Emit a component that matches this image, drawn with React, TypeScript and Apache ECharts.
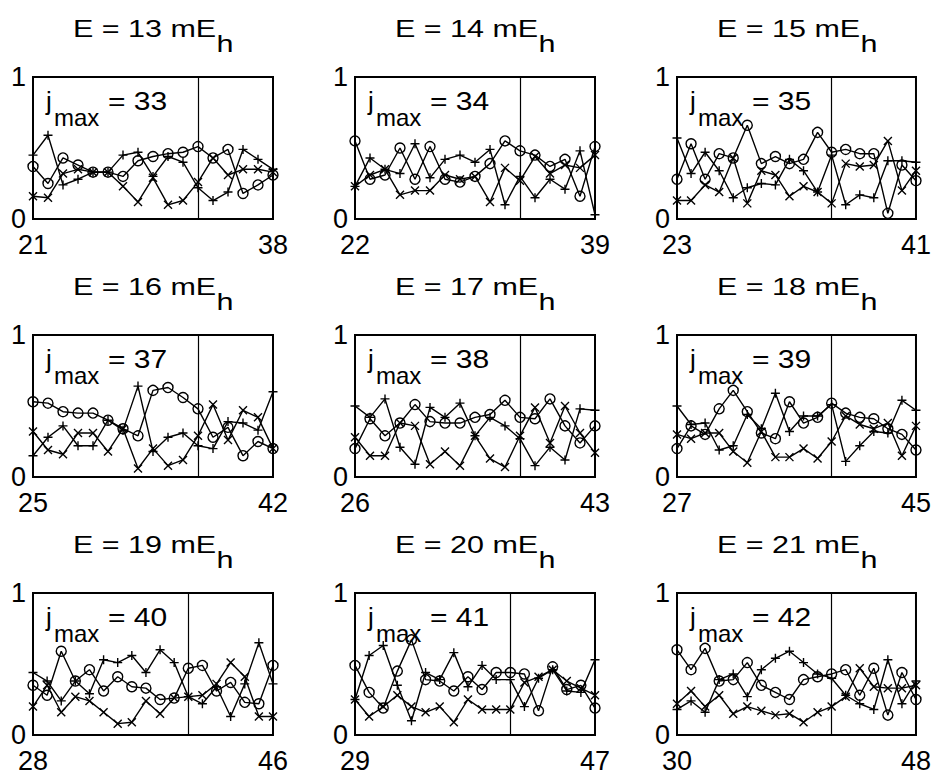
import React, { useEffect, useRef } from "react";
import * as echarts from "echarts";

// Panel metadata
const energies = [13, 14, 15, 16, 17, 18, 19, 20, 21];
const jmaxValues = [33, 34, 35, 37, 38, 39, 40, 41, 42];
const xStartTicks = [21, 22, 23, 25, 26, 27, 28, 29, 30];
const xEndTicks = [38, 39, 41, 42, 43, 45, 46, 47, 48];
const yTicks = [0, 1];

// Series values (circle, plus, cross) per panel
const circ1 = [0.37, 0.25, 0.43, 0.38, 0.33, 0.33, 0.30, 0.41, 0.44, 0.46, 0.47, 0.51, 0.43, 0.49, 0.18, 0.24, 0.31];
const plus1 = [0.45, 0.59, 0.24, 0.28, 0.33, 0.33, 0.45, 0.47, 0.30, 0.44, 0.40, 0.22, 0.13, 0.19, 0.49, 0.42, 0.35];
const cross1 = [0.16, 0.15, 0.32, 0.35, 0.33, 0.33, 0.23, 0.12, 0.29, 0.10, 0.13, 0.26, 0.43, 0.31, 0.35, 0.35, 0.33];

const circ2 = [0.55, 0.28, 0.31, 0.50, 0.28, 0.51, 0.28, 0.26, 0.30, 0.39, 0.55, 0.48, 0.45, 0.37, 0.42, 0.16, 0.51];
const plus2 = [0.23, 0.43, 0.35, 0.32, 0.53, 0.29, 0.42, 0.45, 0.40, 0.49, 0.10, 0.30, 0.15, 0.28, 0.21, 0.48, 0.03];
const cross2 = [0.23, 0.31, 0.35, 0.17, 0.20, 0.20, 0.31, 0.28, 0.30, 0.12, 0.36, 0.27, 0.44, 0.32, 0.38, 0.36, 0.45];

const circ3 = [0.28, 0.53, 0.28, 0.46, 0.43, 0.66, 0.39, 0.44, 0.39, 0.42, 0.61, 0.47, 0.49, 0.46, 0.46, 0.04, 0.38, 0.27];
const plus3 = [0.57, 0.32, 0.47, 0.34, 0.15, 0.22, 0.25, 0.24, 0.42, 0.34, 0.19, 0.45, 0.10, 0.17, 0.15, 0.41, 0.41, 0.40];
const cross3 = [0.13, 0.13, 0.24, 0.19, 0.43, 0.11, 0.34, 0.31, 0.16, 0.23, 0.19, 0.11, 0.39, 0.37, 0.38, 0.55, 0.20, 0.34];

const circ4 = [0.53, 0.52, 0.46, 0.45, 0.45, 0.40, 0.34, 0.29, 0.61, 0.63, 0.56, 0.48, 0.28, 0.35, 0.15, 0.25, 0.20];
const plus4 = [0.15, 0.28, 0.36, 0.22, 0.22, 0.40, 0.33, 0.64, 0.18, 0.28, 0.31, 0.22, 0.20, 0.39, 0.38, 0.33, 0.60];
const cross4 = [0.32, 0.19, 0.16, 0.31, 0.31, 0.18, 0.34, 0.06, 0.20, 0.08, 0.12, 0.29, 0.51, 0.26, 0.47, 0.42, 0.20];

const circ5 = [0.20, 0.41, 0.29, 0.38, 0.51, 0.39, 0.38, 0.38, 0.42, 0.44, 0.54, 0.42, 0.41, 0.55, 0.36, 0.24, 0.36];
const plus5 = [0.50, 0.42, 0.55, 0.21, 0.09, 0.49, 0.42, 0.52, 0.29, 0.42, 0.36, 0.27, 0.08, 0.21, 0.12, 0.48, 0.47];
const cross5 = [0.28, 0.15, 0.15, 0.38, 0.36, 0.09, 0.18, 0.08, 0.29, 0.13, 0.07, 0.29, 0.49, 0.24, 0.50, 0.31, 0.17];

const circ6 = [0.20, 0.36, 0.30, 0.48, 0.61, 0.46, 0.31, 0.27, 0.53, 0.38, 0.42, 0.52, 0.45, 0.42, 0.41, 0.34, 0.30, 0.19];
const plus6 = [0.50, 0.37, 0.38, 0.19, 0.22, 0.44, 0.34, 0.59, 0.32, 0.43, 0.43, 0.51, 0.11, 0.22, 0.32, 0.31, 0.54, 0.47];
const cross6 = [0.30, 0.27, 0.31, 0.31, 0.18, 0.10, 0.32, 0.14, 0.14, 0.20, 0.13, 0.25, 0.43, 0.37, 0.34, 0.38, 0.15, 0.36];

const circ7 = [0.35, 0.28, 0.59, 0.38, 0.46, 0.31, 0.41, 0.34, 0.33, 0.25, 0.26, 0.47, 0.49, 0.31, 0.37, 0.23, 0.22, 0.49];
const plus7 = [0.44, 0.38, 0.24, 0.38, 0.29, 0.53, 0.51, 0.56, 0.44, 0.60, 0.51, 0.27, 0.22, 0.34, 0.13, 0.36, 0.65, 0.36];
const cross7 = [0.20, 0.35, 0.16, 0.27, 0.24, 0.16, 0.08, 0.09, 0.24, 0.15, 0.26, 0.27, 0.28, 0.36, 0.51, 0.41, 0.13, 0.13];

const circ8 = [0.49, 0.30, 0.19, 0.45, 0.67, 0.39, 0.38, 0.31, 0.41, 0.32, 0.44, 0.44, 0.43, 0.17, 0.48, 0.32, 0.35, 0.19];
const plus8 = [0.25, 0.56, 0.63, 0.35, 0.10, 0.44, 0.39, 0.58, 0.34, 0.49, 0.39, 0.39, 0.20, 0.40, 0.46, 0.31, 0.30, 0.53];
const cross8 = [0.25, 0.13, 0.20, 0.28, 0.20, 0.16, 0.20, 0.09, 0.25, 0.18, 0.18, 0.18, 0.37, 0.41, 0.46, 0.38, 0.33, 0.28];

const circ9 = [0.60, 0.46, 0.61, 0.38, 0.39, 0.51, 0.35, 0.30, 0.25, 0.39, 0.41, 0.43, 0.46, 0.28, 0.47, 0.14, 0.44, 0.25];
const plus9 = [0.18, 0.24, 0.16, 0.39, 0.43, 0.27, 0.46, 0.54, 0.59, 0.51, 0.43, 0.40, 0.28, 0.22, 0.18, 0.53, 0.22, 0.38];
const cross9 = [0.22, 0.31, 0.20, 0.28, 0.15, 0.20, 0.17, 0.14, 0.15, 0.09, 0.16, 0.20, 0.27, 0.47, 0.34, 0.33, 0.33, 0.35];

const circleSeries = [circ1, circ2, circ3, circ4, circ5, circ6, circ7, circ8, circ9];
const plusSeries = [plus1, plus2, plus3, plus4, plus5, plus6, plus7, plus8, plus9];
const crossSeries = [cross1, cross2, cross3, cross4, cross5, cross6, cross7, cross8, cross9];

const FONT = "'Liberation Sans', Arial, Helvetica, sans-serif";
const GRID_LEFT = [33, 355, 677];
const GRID_TOP = [77, 335, 593];
const GRID_W = 240;
const GRID_H = 142;
const TITLE_STRETCH = 1.27;
const LABEL_STRETCH = 1.2;

const PLUS = "path://M5,0L5,10M0,5L10,5";
const CROSS = "path://M0,0L10,10M10,0L0,10";

const textStyle = (text: string, fontSize: number) => ({
  text,
  fontSize,
  fontFamily: FONT,
  fontWeight: "normal",
  fill: "#000",
  align: "left",
  verticalAlign: "middle",
  textAlign: "left",
  textVerticalAlign: "middle",
});

export default function App() {
  const ref = useRef<HTMLDivElement>(null);

  useEffect(() => {
    document.body.style.margin = "0";
    const chart = echarts.init(ref.current as HTMLDivElement, null, { renderer: "svg" });

    const grids: any[] = [];
    const xAxes: any[] = [];
    const yAxes: any[] = [];
    const series: any[] = [];
    const graphics: any[] = [];

    energies.forEach((e, p) => {
      const col = p % 3;
      const row = Math.floor(p / 3);
      const left = GRID_LEFT[col];
      const top = GRID_TOP[row];
      const n = circleSeries[p].length;

      grids.push({
        left,
        top,
        width: GRID_W,
        height: GRID_H,
        show: true,
        borderColor: "#000",
        borderWidth: 2,
        backgroundColor: "transparent",
      });

      xAxes.push({
        type: "category",
        gridIndex: p,
        boundaryGap: false,
        data: circleSeries[p].map((_: number, i: number) => String(i)),
        axisLine: { show: false },
        axisTick: { show: false },
        splitLine: { show: false },
        axisLabel: {
          interval: (i: number) => i === 0 || i === n - 1,
          formatter: (_v: string, i: number) =>
            i === 0 ? String(xStartTicks[p]) : String(xEndTicks[p]),
          fontSize: 27,
          color: "#000",
          fontFamily: FONT,
          margin: 12,
        },
      });

      yAxes.push({
        type: "value",
        gridIndex: p,
        min: yTicks[0],
        max: yTicks[1],
        interval: 1,
        axisLine: { show: false },
        axisTick: { show: false },
        splitLine: { show: false },
        axisLabel: { fontSize: 27, color: "#000", fontFamily: FONT, margin: 7 },
      });

      const common = {
        type: "line",
        xAxisIndex: p,
        yAxisIndex: p,
        showSymbol: true,
        showAllSymbol: true,
        symbolKeepAspect: true,
        lineStyle: { color: "#000", width: 1.4 },
        itemStyle: { color: "rgba(0,0,0,0)", borderColor: "#000", borderWidth: 1.4 },
        emphasis: { disabled: true },
        silent: true,
      };

      series.push({
        ...common,
        name: "circle" + p,
        data: circleSeries[p],
        symbol: "circle",
        symbolSize: 10,
        markLine: {
          silent: true,
          symbol: "none",
          label: { show: false },
          lineStyle: { color: "#000", width: 1.2, type: "solid" },
          data: [{ xAxis: String(jmaxValues[p] - xStartTicks[p] - 1) }],
        },
      });
      series.push({ ...common, name: "plus" + p, data: plusSeries[p], symbol: PLUS, symbolSize: 9 });
      series.push({ ...common, name: "cross" + p, data: crossSeries[p], symbol: CROSS, symbolSize: 8 });

      // Title
      graphics.push({
        type: "group",
        x: left + GRID_W / 2,
        y: top - 48,
        scaleX: TITLE_STRETCH,
        children: [
          { type: "text", x: -63, y: 0, style: textStyle(`E = ${e} mE`, 24) },
          { type: "text", x: 50, y: 15, style: textStyle("h", 24) },
        ],
      });

      // j_max label
      graphics.push({ type: "text", x: left + 13, y: top + 24, style: textStyle("j", 26) });
      graphics.push({ type: "text", x: left + 21, y: top + 40, style: textStyle("max", 24) });
      graphics.push({
        type: "group",
        x: left + 75,
        y: top + 24,
        scaleX: LABEL_STRETCH,
        children: [{ type: "text", x: 0, y: 0, style: textStyle(`= ${jmaxValues[p]}`, 25) }],
      });
    });

    chart.setOption({
      animation: false,
      backgroundColor: "#fff",
      grid: grids,
      xAxis: xAxes,
      yAxis: yAxes,
      series,
      graphic: graphics,
    });

    return () => chart.dispose();
  }, []);

  return <div ref={ref} style={{ width: 934, height: 776 }} />;
}
